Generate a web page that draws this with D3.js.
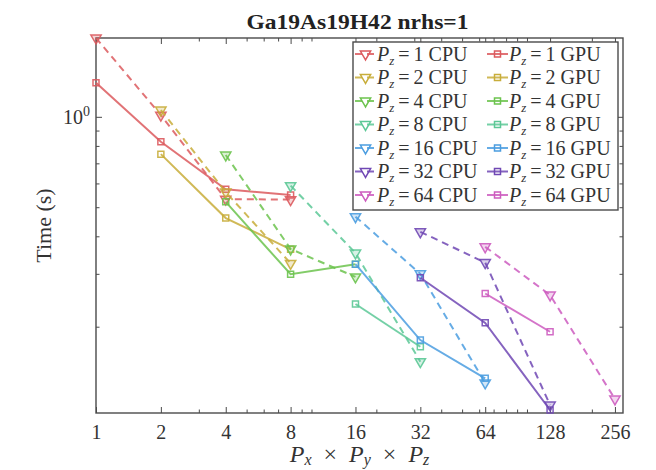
<!DOCTYPE html>
<html><head><meta charset="utf-8">
<script src="https://cdn.jsdelivr.net/npm/d3@7"></script>
<style>body{margin:0;background:#fff}</style>
</head><body><svg id="c" width="656" height="470"></svg>
<script>
// ---- data ----
const pzValues = [1, 2, 4, 8, 16, 32, 64];
const seriesColors = ["#dc5a5e", "#c8ad3a", "#6cc34e", "#5cc896", "#4b9de0", "#7048b4", "#cd5cbf"];
const cpuX = [[1, 2, 4, 8], [2, 4, 8], [4, 8, 16], [8, 16, 32], [16, 32, 64], [32, 64, 128], [64, 128, 256]];
const cpuTime = [[1.83, 1.013, 0.532, 0.530], [1.053, 0.5615, 0.325], [0.746, 0.363, 0.293], [0.590, 0.352, 0.153], [0.465, 0.300, 0.130], [0.414, 0.327, 0.1097], [0.369, 0.255, 0.1149]];
const gpuX = [[1, 2, 4, 8], [2, 4, 8], [4, 8, 16], [16, 32], [16, 32, 64], [32, 64, 128], [64, 128]];
const gpuTime = [[1.298, 0.826, 0.574, 0.549], [0.751, 0.460, 0.362], [0.521, 0.299, 0.323], [0.238, 0.1715], [0.323, 0.1805, 0.1346], [0.291, 0.206, 0.1056], [0.258, 0.1924]];
const xTicks = [1, 2, 4, 8, 16, 32, 64, 128, 256];
const xMinorTicks = [3, 5, 6, 7, 9, 10, 20, 30, 40, 50, 60, 70, 80, 90, 100, 200];
const yMajorTicks = [1];
const yMinorTicks = [0.2, 0.3, 0.4, 0.5, 0.6, 0.7, 0.8, 0.9];
const xDomain = [1, 279];
const yDomain = [0.1032, 1.83];
const titleText = "Ga19As19H42 nrhs=1";

// ---- layout ----
const L = 96, R = 623, T = 38, B = 413;
const svg = d3.select("#c");
const FONT = "'Liberation Serif', 'Times New Roman', serif";
const AX = "#4a4a4a";

const x = d3.scaleLog().base(2).domain(xDomain).range([L, R]);
const y = d3.scaleLog().domain(yDomain).range([B, T]);

svg.append("rect").attr("width", 656).attr("height", 470).attr("fill", "#fff");

// axes
function styleAxis(g) {
  g.select(".domain").remove();
  g.selectAll(".tick line").attr("stroke", AX).attr("stroke-width", 1);
  g.selectAll(".tick text").attr("font-family", FONT).attr("font-size", 20).attr("fill", "#333");
}
svg.append("g").attr("transform", `translate(0,${B})`)
  .call(d3.axisBottom(x).tickValues(xTicks).tickSize(-6).tickSizeOuter(0).tickPadding(12).tickFormat(d3.format("d")))
  .call(styleAxis);
svg.append("g").attr("transform", `translate(0,${B})`)
  .call(d3.axisBottom(x).tickValues(xMinorTicks).tickSize(-3.5).tickSizeOuter(0).tickFormat(""))
  .call(styleAxis);
svg.append("g").attr("transform", `translate(0,${T})`)
  .call(d3.axisTop(x).tickValues(xTicks).tickSize(-6).tickSizeOuter(0).tickFormat(""))
  .call(styleAxis);
svg.append("g").attr("transform", `translate(0,${T})`)
  .call(d3.axisTop(x).tickValues(xMinorTicks).tickSize(-3.5).tickSizeOuter(0).tickFormat(""))
  .call(styleAxis);
const yl = svg.append("g").attr("transform", `translate(${L},0)`)
  .call(d3.axisLeft(y).tickValues(yMajorTicks).tickSize(-6).tickSizeOuter(0).tickPadding(8).tickFormat(""))
  .call(styleAxis);
yl.selectAll(".tick").append("text").attr("x", -6).attr("dy", "0.32em").attr("text-anchor", "end")
  .attr("font-family", FONT).attr("font-size", 20).attr("fill", "#333")
  .each(function () {
    const t = d3.select(this);
    t.append("tspan").text("10");
    t.append("tspan").attr("dy", -8).attr("font-size", 14).text("0");
  });
svg.append("g").attr("transform", `translate(${L},0)`)
  .call(d3.axisLeft(y).tickValues(yMinorTicks).tickSize(-3.5).tickSizeOuter(0).tickFormat(""))
  .call(styleAxis);
svg.append("g").attr("transform", `translate(${R},0)`)
  .call(d3.axisRight(y).tickValues(yMajorTicks).tickSize(-6).tickSizeOuter(0).tickFormat(""))
  .call(styleAxis);
svg.append("g").attr("transform", `translate(${R},0)`)
  .call(d3.axisRight(y).tickValues(yMinorTicks).tickSize(-3.5).tickSizeOuter(0).tickFormat(""))
  .call(styleAxis);

svg.append("rect").attr("x", L).attr("y", T).attr("width", R - L).attr("height", B - T)
  .attr("fill", "none").attr("stroke", AX).attr("stroke-width", 1.4);

// series
const line = d3.line().x(d => x(d[0])).y(d => y(d[1]));
const tri = d3.symbol().type(d3.symbolTriangle).size(46);
function drawSeries(xs, ys, color, cpu) {
  const pts = xs.map((v, i) => [v, ys[i]]);
  const g = svg.append("g");
  g.append("path").attr("d", line(pts)).attr("fill", "none").attr("stroke", color)
    .attr("stroke-width", 2).attr("stroke-opacity", 0.85)
    .attr("stroke-dasharray", cpu ? "7,5" : null);
  g.selectAll("m").data(pts).enter().append("path")
    .attr("d", cpu ? tri() : "M-3,-3H3V3H-3Z")
    .attr("transform", d => `translate(${x(d[0])},${y(d[1])})${cpu ? " rotate(180)" : ""}`)
    .attr("fill", cpu ? color : "none").attr("fill-opacity", cpu ? 0.25 : 0)
    .attr("stroke", color).attr("stroke-width", 1.5).attr("stroke-opacity", 0.9);
}
pzValues.forEach((pz, i) => {
  drawSeries(cpuX[i], cpuTime[i], seriesColors[i], true);
  drawSeries(gpuX[i], gpuTime[i], seriesColors[i], false);
});

// legend
const lg = svg.append("g");
lg.append("rect").attr("x", 353).attr("y", 42).attr("width", 265).attr("height", 168)
  .attr("fill", "#fff").attr("stroke", AX).attr("stroke-width", 1.4);
function pzLabel(t, pz, kind) {
  t.append("tspan").attr("font-style", "italic").text("P");
  t.append("tspan").attr("font-style", "italic").attr("font-size", 13).attr("dy", 4).text("z");
  t.append("tspan").attr("dy", -4).text("\u2009=\u2009" + pz + " " + kind);
}
pzValues.forEach((pz, i) => {
  const cy = 54 + i * 23.5;
  [[true, 355, 377, "CPU"], [false, 487, 509, "GPU"]].forEach(([cpu, x0, tx, kind]) => {
    const c = seriesColors[i];
    lg.append("line").attr("x1", x0).attr("x2", x0 + 21).attr("y1", cy).attr("y2", cy)
      .attr("stroke", c).attr("stroke-width", 2).attr("stroke-opacity", 0.85)
      .attr("stroke-dasharray", cpu ? "7,5" : null);
    lg.append("path").attr("d", cpu ? tri() : "M-3,-3H3V3H-3Z")
      .attr("transform", `translate(${x0 + 10.5},${cy})${cpu ? " rotate(180)" : ""}`)
      .attr("fill", "none").attr("stroke", c).attr("stroke-width", 1.5);
    const t = lg.append("text").attr("x", tx).attr("y", cy + 6.5).attr("font-family", FONT)
      .attr("font-size", 20).attr("fill", "#333");
    pzLabel(t, pz, kind);
  });
});

// titles
svg.append("text").attr("x", (L + R) / 2 - 2).attr("y", 29).attr("text-anchor", "middle")
  .attr("font-family", FONT).attr("font-weight", "bold").attr("font-size", 22).attr("fill", "#222")
  .attr("textLength", 222).attr("lengthAdjust", "spacingAndGlyphs")
  .text(titleText);
svg.append("text").attr("transform", `translate(51,${(T + B) / 2}) rotate(-90)`)
  .attr("text-anchor", "middle").attr("font-family", FONT).attr("font-size", 22).attr("fill", "#333")
  .text("Time (s)");
const xl = svg.append("text").attr("x", (L + R) / 2).attr("y", 462).attr("text-anchor", "middle")
  .attr("font-family", FONT).attr("font-size", 24).attr("fill", "#333");
[["x", "\u2002\u00d7\u2002"], ["y", "\u2002\u00d7\u2002"], ["z", ""]].forEach(([s, tail]) => {
  xl.append("tspan").attr("font-style", "italic").text("P");
  xl.append("tspan").attr("font-style", "italic").attr("font-size", 16).attr("dy", 3).text(s);
  xl.append("tspan").attr("dy", -3).text(tail);
});
</script></body></html>
